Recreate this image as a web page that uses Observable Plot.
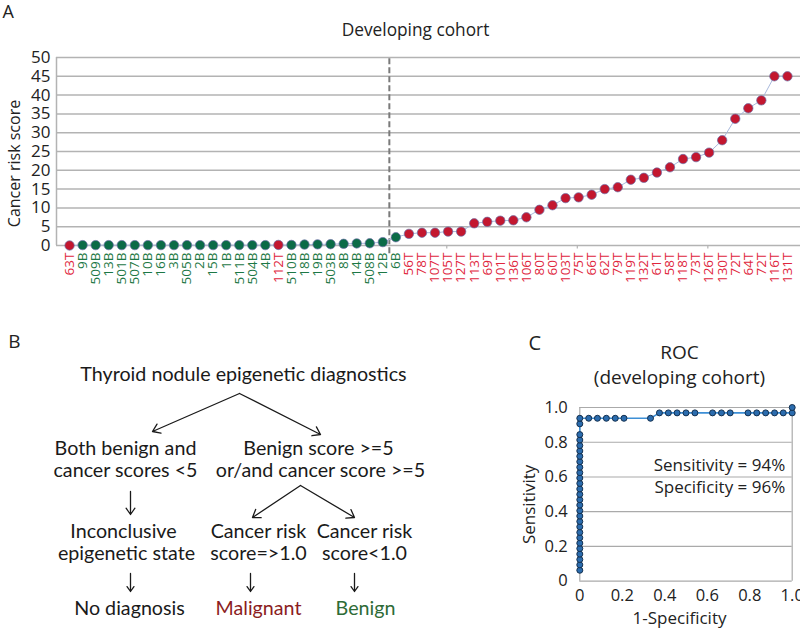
<!DOCTYPE html>
<html><head><meta charset="utf-8">
<script src="https://cdn.jsdelivr.net/npm/d3@7"></script>
<script src="https://cdn.jsdelivr.net/npm/@observablehq/plot@0.6"></script>
<style>
body{margin:0;background:#fff;font-family:"Open Sans",sans-serif;}
#fig{position:relative;width:800px;height:629px;overflow:hidden;background:#fff;}
#fig svg{position:absolute;overflow:visible;}
</style></head><body><div id="fig"></div>
<script>
// ---- Panel A data ----
const samples = ["63T","9B","509B","13B","501B","507B","10B","16B","3B","505B","2B","15B","1B","511B","504B","4B","112T","510B","18B","19B","503B","8B","14B","508B","12B","6B",
  "56T","78T","107T","105T","127T","113T","69T","101T","136T","106T","80T","60T","103T","75T","66T","62T","79T","119T","132T","61T","58T","118T","73T","126T","130T","72T","64T","72T","116T","131T"];
const scores = [0,0.1,0.1,0.1,0.1,0.1,0.1,0.1,0.1,0.1,0.1,0.1,0.1,0.1,0.1,0.1,0.15,0.15,0.25,0.3,0.35,0.45,0.55,0.6,0.9,2.2,
  3.1,3.4,3.4,3.7,3.7,5.9,6.3,6.6,6.7,7.5,9.5,10.7,12.6,12.8,13.5,15.0,15.5,17.5,18.0,19.4,20.8,23.0,23.5,24.7,28.0,33.7,36.5,38.6,45.0,45.0];
const yTicksA = [0,5,10,15,20,25,30,35,40,45,50];
const xTickMarksA = [28.9,38.9,48.9];
const cutoffPosition = 24.5;

// ---- Panel C data (ROC) ----
const rocFpr = [0,0,0,0,0,0,0,0,0,0,0,0,0,0,0,0,0,0,0,0,0,0,0,0,0,0,0,0,
  0.042,0.083,0.125,0.167,0.208,0.333,0.375,0.417,0.458,0.5,0.542,0.625,0.667,0.708,0.792,0.833,0.875,0.917,0.958,1.0,1.0];
const rocTpr = [0.063,0.094,0.125,0.156,0.188,0.219,0.25,0.281,0.313,0.344,0.375,0.406,0.438,0.469,0.5,0.531,0.563,0.594,0.625,0.656,0.688,0.719,0.75,0.781,0.813,0.844,0.906,0.938,
  0.938,0.938,0.938,0.938,0.938,0.938,0.969,0.969,0.969,0.969,0.969,0.969,0.969,0.969,0.969,0.969,0.969,0.969,0.969,0.969,1.0];
const rocTicks = [0,0.2,0.4,0.6,0.8,1.0];

// ---- Panel B (flowchart) ----
const flowText = [
  {t:"Thyroid nodule epigenetic diagnostics", x:243, y:374, c:"#1a1a1a"},
  {t:"Both benign and", x:125, y:448, c:"#1a1a1a"},
  {t:"cancer scores <5", x:125, y:470, c:"#1a1a1a"},
  {t:"Benign score >=5", x:318, y:448, c:"#1a1a1a"},
  {t:"or/and cancer score >=5", x:320, y:470, c:"#1a1a1a"},
  {t:"Inconclusive", x:123, y:531, c:"#1a1a1a"},
  {t:"epigenetic state", x:126, y:553, c:"#1a1a1a"},
  {t:"Cancer risk", x:258, y:531, c:"#1a1a1a"},
  {t:"score=>1.0", x:258, y:553, c:"#1a1a1a"},
  {t:"Cancer risk", x:364, y:531, c:"#1a1a1a"},
  {t:"score<1.0", x:364, y:553, c:"#1a1a1a"},
  {t:"No diagnosis", x:129, y:608, c:"#1a1a1a"},
  {t:"Malignant", x:258, y:608, c:"#8b1d22"},
  {t:"Benign", x:365, y:608, c:"#2e6b36"}
];
const flowArrows = [
  {x1:239,y1:393,x2:152,y2:431},
  {x1:239,y1:393,x2:320,y2:434},
  {x1:130,y1:491,x2:130,y2:514},
  {x1:300,y1:485,x2:252,y2:517},
  {x1:300,y1:485,x2:354,y2:517},
  {x1:130,y1:573,x2:130,y2:591},
  {x1:250,y1:573,x2:250,y2:591},
  {x1:354,y1:573,x2:354,y2:591}
];

const fig = document.getElementById("fig");
const RED = "#c3172f", GREEN = "#0b6b47";
const LRED = "#e0263d", LGREEN = "#1d7845";

// ---------- Panel A ----------
const dataA = samples.map((s, i) => ({i, s, v: scores[i], t: s.endsWith("T")}));
const A = Plot.plot({
  width: 800, height: 310,
  marginLeft: 56, marginRight: 0, marginTop: 57, marginBottom: 65,
  x: {domain: [-1, 56], axis: null},
  y: {domain: [0, 50], axis: null},
  color: {type: "identity"},
  style: {fontFamily: "'Open Sans', sans-serif", color: "#222", background: "transparent"},
  marks: [
    Plot.ruleY(yTicksA, {stroke: "#b3b3b3", strokeWidth: 1.5}),
    Plot.ruleX([-1], {stroke: "#b3b3b3", strokeWidth: 1.5}),
    Plot.ruleX(xTickMarksA, {y1: 0, y2: -0.9, stroke: "#b3b3b3", strokeWidth: 1.2}),
    Plot.ruleX([cutoffPosition], {y1: -2.2, y2: 50, stroke: "#7a7a7a", strokeWidth: 2, strokeDasharray: "6,3"}),
    Plot.axisY({ticks: yTicksA, tickSize: 0, tickPadding: 6, fontSize: 17, label: null}),
    Plot.line(dataA, {x: "i", y: "v", stroke: "#a9b9dc", strokeWidth: 1}),
    Plot.dot(dataA, {x: "i", y: "v", r: 4.7, fill: d => d.t ? RED : GREEN, stroke: "#6b6fa6", strokeWidth: 0.7}),
    Plot.text(dataA, {x: "i", y: d => 0, text: "s", rotate: -90, textAnchor: "end", lineAnchor: "middle", dy: 7, fontSize: 13.5, fill: d => d.t ? LRED : LGREEN}),
    Plot.text(["Cancer risk score"], {frameAnchor: "left", textAnchor: "middle", lineAnchor: "middle", dx: -42, dy: 12, rotate: -90, fontSize: 16, fill: "#222"}),
    Plot.text(["Developing cohort"], {frameAnchor: "top", textAnchor: "middle", lineAnchor: "middle", dx: -13, dy: -27, fontSize: 17.3, fill: "#222"}),
    Plot.text(["A"], {frameAnchor: "top-left", lineAnchor: "middle", dx: -54, dy: -45, fontSize: 18, textAnchor: "start", fill: "#222"})
  ]
});
A.style.left = "0px"; A.style.top = "0px";
fig.appendChild(A);

// ---------- Panel B ----------
const B = Plot.plot({
  width: 520, height: 309,
  margin: 0,
  x: {domain: [0, 520], range: [0, 520], axis: null},
  y: {domain: [320, 629], range: [0, 309], axis: null},
  color: {type: "identity"},
  style: {fontFamily: "Lato, 'Open Sans', sans-serif", background: "transparent"},
  marks: [
    Plot.arrow(flowArrows, {x1: "x1", y1: "y1", x2: "x2", y2: "y2", stroke: "#1a1a1a", strokeWidth: 1.3, headLength: 10, headAngle: 70}),
    Plot.text(flowText, {x: "x", y: "y", text: "t", fill: "c", fontSize: 19.7}),
    Plot.text(["B"], {x: d => 14, y: d => 341, fontSize: 19, fill: "#222", fontFamily: "'Open Sans', sans-serif"})
  ]
});
B.style.left = "0px"; B.style.top = "320px";
fig.appendChild(B);

// ---------- Panel C ----------
const dataC = rocFpr.map((x, i) => ({x, y: rocTpr[i]}));
const C = Plot.plot({
  width: 280, height: 299,
  marginLeft: 59.3, marginRight: 8.3, marginTop: 77, marginBottom: 48.3,
  x: {domain: [0, 1], axis: null},
  y: {domain: [0, 1], axis: null},
  style: {fontFamily: "'Open Sans', sans-serif", color: "#222", background: "transparent"},
  marks: [
    Plot.ruleY(rocTicks, {stroke: "#aaaaaa", strokeWidth: 1.2}),
    Plot.ruleX([0, 1], {stroke: "#aaaaaa", strokeWidth: 1.2}),
    Plot.axisY({ticks: rocTicks, tickSize: 0, tickPadding: 12, fontSize: 16.5, label: null, tickFormat: d => d === 0 ? "0" : d.toFixed(1)}),
    Plot.axisX({ticks: rocTicks, tickSize: 0, tickPadding: 8, fontSize: 16.5, label: null, tickFormat: d => d === 0 ? "0" : d.toFixed(1)}),
    Plot.line(dataC, {x: "x", y: "y", stroke: "#3d8fd6", strokeWidth: 1.6}),
    Plot.dot(dataC, {x: "x", y: "y", r: 3, fill: "#2b6cae", stroke: "#14304f", strokeWidth: 1}),
    Plot.text(["Sensitivity = 94%"], {frameAnchor: "top-right", dx: -7, dy: 58, textAnchor: "end", lineAnchor: "middle", fontSize: 17, fill: "#222"}),
    Plot.text(["Specificity = 96%"], {frameAnchor: "top-right", dx: -7, dy: 80, textAnchor: "end", lineAnchor: "middle", fontSize: 17, fill: "#222"}),
    Plot.text(["ROC"], {frameAnchor: "top", textAnchor: "middle", lineAnchor: "middle", dx: -6.5, dy: -55, fontSize: 19, fill: "#222"}),
    Plot.text(["(developing cohort)"], {frameAnchor: "top", textAnchor: "middle", lineAnchor: "middle", dx: -6.5, dy: -30, fontSize: 19, fill: "#222"}),
    Plot.text(["1-Specificity"], {frameAnchor: "bottom", textAnchor: "middle", lineAnchor: "middle", dx: -6.5, dy: 37.5, fontSize: 17, fill: "#222"}),
    Plot.text(["Sensitivity"], {frameAnchor: "left", textAnchor: "middle", lineAnchor: "middle", dx: -50.5, dy: 10, rotate: -90, fontSize: 17, fill: "#222"}),
    Plot.text(["C"], {frameAnchor: "top-left", textAnchor: "middle", lineAnchor: "middle", dx: -45, dy: -64, fontSize: 20, fill: "#222"})
  ]
});
C.style.left = "520px"; C.style.top = "330px";
fig.appendChild(C);
</script></body></html>
